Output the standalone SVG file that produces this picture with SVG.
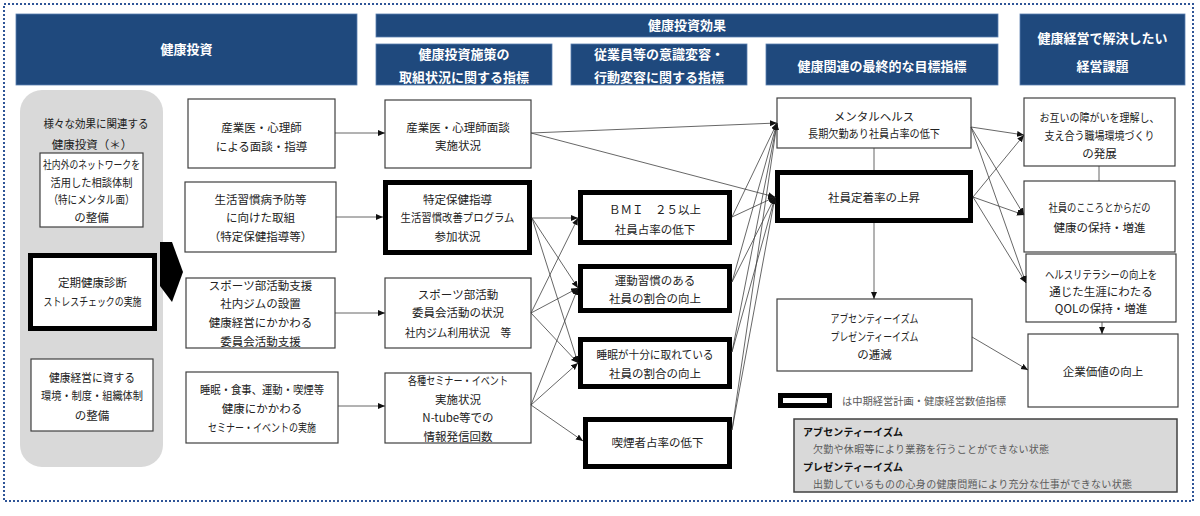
<svg xmlns="http://www.w3.org/2000/svg" width="1200" height="516" viewBox="0 0 1200 516">
<style>
text{font-family:"Noto Sans CJK JP","Noto Sans",sans-serif;}
.hdr{fill:#1F497D;stroke:#5b7fb0;stroke-width:0.8;}
.ht{fill:#fff;font-weight:bold;font-size:13px;text-anchor:middle;}
.box{fill:#fff;stroke:#404040;stroke-width:1.2;}
.tbox{fill:#fff;stroke:#000;stroke-width:5;}
.t{font-size:11.5px;fill:#222;text-anchor:middle;}
.c{stroke:#404040;stroke-width:0.8;fill:none;}
.a{marker-end:url(#ah);}
.nb{font-size:10px;font-weight:bold;fill:#111;}
.nt{font-size:10px;fill:#595959;}
</style>
<defs>
<marker id="ah" markerUnits="userSpaceOnUse" markerWidth="8" markerHeight="7" refX="7" refY="3" orient="auto">
<path d="M0,0 L7,3 L0,6 z" fill="#111"/>
</marker>
</defs>
<rect x="0" y="0" width="1200" height="516" fill="#fff"/>
<rect x="4" y="4" width="1189" height="497" fill="none" stroke="#2F5597" stroke-width="2" stroke-dasharray="2 2"/>

<g id="headers">
<rect class="hdr" x="16" y="14" width="341" height="71"/>
<text class="ht" x="186.5" y="54">健康投資</text>
<rect class="hdr" x="376" y="14" width="622" height="23"/>
<text class="ht" x="687" y="30">健康投資効果</text>
<rect class="hdr" x="376" y="44" width="176" height="41"/>
<text class="ht" x="464" y="58.5">健康投資施策の</text>
<text class="ht" x="464" y="81.5">取組状況に関する指標</text>
<rect class="hdr" x="571" y="44" width="176" height="41"/>
<text class="ht" x="659" y="58.5">従業員等の意識変容・</text>
<text class="ht" x="659" y="81.5">行動変容に関する指標</text>
<rect class="hdr" x="766" y="44" width="232" height="41"/>
<text class="ht" x="882" y="71">健康関連の最終的な目標指標</text>
<rect class="hdr" x="1020" y="14" width="165" height="71"/>
<text class="ht" x="1102.5" y="42.5">健康経営で解決したい</text>
<text class="ht" x="1102.5" y="70.5">経営課題</text>
</g>

<g id="panel">
<rect x="20" y="90" width="143" height="377" rx="22" fill="#d9d9d9"/>
<text class="t" x="96" y="128" textLength="105" lengthAdjust="spacingAndGlyphs">様々な効果に関連する</text>
<text class="t" x="92" y="149">健康投資（＊）</text>
</g>

<g id="inv-network">
<rect class="box" x="40" y="153" width="103" height="74"/>
<text class="t" x="91.5" y="169" textLength="97" lengthAdjust="spacingAndGlyphs">社内外のネットワークを</text>
<text class="t" x="91.5" y="187" textLength="82" lengthAdjust="spacingAndGlyphs">活用した相談体制</text>
<text class="t" x="91.5" y="204" textLength="86" lengthAdjust="spacingAndGlyphs">（特にメンタル面）</text>
<text class="t" x="91.5" y="222">の整備</text>
</g>
<g id="inv-checkup">
<rect class="tbox" x="30.5" y="255.5" width="124" height="73"/>
<text class="t" x="92.5" y="287">定期健康診断</text>
<text class="t" x="92.5" y="306" textLength="98" lengthAdjust="spacingAndGlyphs">ストレスチェックの実施</text>
</g>
<g id="inv-env">
<rect class="box" x="31" y="359" width="122" height="72"/>
<text class="t" x="92" y="382" textLength="86" lengthAdjust="spacingAndGlyphs">健康経営に資する</text>
<text class="t" x="92" y="400" textLength="102" lengthAdjust="spacingAndGlyphs">環境・制度・組織体制</text>
<text class="t" x="92" y="420">の整備</text>
</g>
<g id="big-arrow">
<polygon points="160,242 172,242 183,272 172,302 160,286" fill="#000"/>
</g>

<g id="c2-1">
<rect class="box" x="188" y="99" width="147" height="69"/>
<text class="t" x="261.5" y="132">産業医・心理師</text>
<text class="t" x="261.5" y="151">による面談・指導</text>
</g>
<g id="c2-2">
<rect class="box" x="185" y="182" width="151" height="70"/>
<text class="t" x="260.5" y="204">生活習慣病予防等</text>
<text class="t" x="260.5" y="222">に向けた取組</text>
<text class="t" x="260.5" y="241">（特定保健指導等）</text>
</g>
<g id="c2-3">
<rect class="box" x="186" y="278" width="149" height="70"/>
<text class="t" x="260.5" y="290">スポーツ部活動支援</text>
<text class="t" x="260.5" y="308">社内ジムの設置</text>
<text class="t" x="260.5" y="327">健康経営にかかわる</text>
<text class="t" x="260.5" y="346">委員会活動支援</text>
</g>
<g id="c2-4">
<rect class="box" x="186" y="372" width="152" height="71"/>
<text class="t" x="262" y="394" textLength="124" lengthAdjust="spacingAndGlyphs">睡眠・食事、運動・喫煙等</text>
<text class="t" x="262" y="413">健康にかかわる</text>
<text class="t" x="262" y="432" textLength="108" lengthAdjust="spacingAndGlyphs">セミナー・イベントの実施</text>
</g>

<g id="c3-1">
<rect class="box" x="385" y="100" width="146" height="68"/>
<text class="t" x="458" y="132">産業医・心理師面談</text>
<text class="t" x="458" y="150">実施状況</text>
</g>
<g id="c3-2">
<rect class="tbox" x="385.5" y="182.5" width="144" height="70"/>
<text class="t" x="457.5" y="204">特定保健指導</text>
<text class="t" x="457.5" y="222" textLength="114" lengthAdjust="spacingAndGlyphs">生活習慣改善プログラム</text>
<text class="t" x="457.5" y="241">参加状況</text>
</g>
<g id="c3-3">
<rect class="box" x="385" y="278" width="146" height="70"/>
<text class="t" x="458" y="299">スポーツ部活動</text>
<text class="t" x="458" y="317">委員会活動の状況</text>
<text class="t" x="458" y="337" textLength="106" lengthAdjust="spacingAndGlyphs">社内ジム利用状況　等</text>
</g>
<g id="c3-4">
<rect class="box" x="385" y="373" width="146" height="70"/>
<text class="t" x="458" y="385" textLength="100" lengthAdjust="spacingAndGlyphs">各種セミナー・イベント</text>
<text class="t" x="458" y="404">実施状況</text>
<text class="t" x="458" y="422">N-tube等での</text>
<text class="t" x="458" y="441">情報発信回数</text>
</g>

<g id="c4-1">
<rect class="tbox" x="580.5" y="192.5" width="149" height="50"/>
<text class="t" x="655" y="214">ＢＭＩ　２５以上</text>
<text class="t" x="655" y="234">社員占率の低下</text>
</g>
<g id="c4-2">
<rect class="tbox" x="580.5" y="266.5" width="149" height="44"/>
<text class="t" x="655" y="285">運動習慣のある</text>
<text class="t" x="655" y="303">社員の割合の向上</text>
</g>
<g id="c4-3">
<rect class="tbox" x="580.5" y="339.5" width="149" height="47"/>
<text class="t" x="655" y="359" textLength="117" lengthAdjust="spacingAndGlyphs">睡眠が十分に取れている</text>
<text class="t" x="655" y="378">社員の割合の向上</text>
</g>
<g id="c4-4">
<rect class="tbox" x="585.5" y="419.5" width="144" height="47"/>
<text class="t" x="657.5" y="447">喫煙者占率の低下</text>
</g>

<g id="c5-1">
<rect class="box" x="777" y="98" width="194" height="50"/>
<text class="t" x="874" y="121">メンタルヘルス</text>
<text class="t" x="874" y="138" textLength="132" lengthAdjust="spacingAndGlyphs">長期欠勤あり社員占率の低下</text>
</g>
<g id="c5-2">
<rect class="tbox" x="777.5" y="172.5" width="193" height="48"/>
<text class="t" x="874" y="202">社員定着率の上昇</text>
</g>
<g id="c5-3">
<rect class="box" x="777" y="299" width="195" height="72"/>
<text class="t" x="874.5" y="323" textLength="88" lengthAdjust="spacingAndGlyphs">アブセンティーイズム</text>
<text class="t" x="874.5" y="341" textLength="88" lengthAdjust="spacingAndGlyphs">プレゼンティーイズム</text>
<text class="t" x="874.5" y="359">の逓減</text>
</g>

<g id="c6-1">
<rect class="box" x="1024" y="98" width="151" height="68"/>
<text class="t" x="1099.5" y="122" textLength="120" lengthAdjust="spacingAndGlyphs">お互いの障がいを理解し、</text>
<text class="t" x="1099.5" y="140" textLength="110" lengthAdjust="spacingAndGlyphs">支え合う職場環境づくり</text>
<text class="t" x="1099.5" y="158">の発展</text>
</g>
<g id="c6-2">
<rect class="box" x="1024" y="181" width="151" height="71"/>
<text class="t" x="1099.5" y="212" textLength="102" lengthAdjust="spacingAndGlyphs">社員のこころとからだの</text>
<text class="t" x="1099.5" y="232">健康の保持・増進</text>
</g>
<g id="c6-3">
<rect class="box" x="1026" y="254" width="150" height="68"/>
<text class="t" x="1101" y="279" textLength="112" lengthAdjust="spacingAndGlyphs">ヘルスリテラシーの向上を</text>
<text class="t" x="1101" y="296">通じた生涯にわたる</text>
<text class="t" x="1101" y="313">QOLの保持・増進</text>
</g>
<g id="c6-4">
<rect class="box" x="1028" y="334" width="150" height="73"/>
<text class="t" x="1103" y="376">企業価値の向上</text>
</g>

<g id="legend">
<rect x="780.5" y="395.5" width="49" height="10" fill="#fff" stroke="#000" stroke-width="5"/>
<text x="842" y="405" font-size="10.5" fill="#595959" textLength="164" lengthAdjust="spacingAndGlyphs">は中期経営計画・健康経営数値指標</text>
</g>
<g id="note">
<rect x="794" y="419" width="383" height="73" fill="#d9d9d9" stroke="#404040" stroke-width="1.5"/>
<text class="nb" x="803" y="436" textLength="100">アブセンティーイズム</text>
<text class="nt" x="813" y="453" textLength="236">欠勤や休暇等により業務を行うことができない状態</text>
<text class="nb" x="803" y="471" textLength="100">プレゼンティーイズム</text>
<text class="nt" x="813" y="488" textLength="319">出勤しているものの心身の健康問題により充分な仕事ができない状態</text>
</g>

<g id="connectors">
<path class="c a" d="M335,133 L385,133"/>
<path class="c a" d="M336,217 L383,217"/>
<path class="c a" d="M335,313 L385,313"/>
<path class="c a" d="M338,406 L385,406"/>

<path class="c a" d="M532,218 L578,218"/>
<path class="c a" d="M532,218 L578,288"/>
<path class="c a" d="M532,218 L578,363"/>
<path class="c a" d="M531,313 L578,218"/>
<path class="c a" d="M531,313 L578,288"/>
<path class="c a" d="M531,313 L578,363"/>
<path class="c a" d="M531,405 L578,288"/>
<path class="c a" d="M531,405 L578,363"/>
<path class="c a" d="M531,405 L583,441"/>

<path class="c a" d="M531,133 L777,123"/>
<path class="c a" d="M531,133 L775,197"/>

<path class="c a" d="M732,217 L777,123"/>
<path class="c a" d="M732,217 L775,197"/>
<path class="c a" d="M732,282 L777,123"/>
<path class="c a" d="M732,282 L775,197"/>
<path class="c a" d="M732,352 L777,123"/>
<path class="c a" d="M732,352 L775,197"/>
<path class="c a" d="M732,430 L777,123"/>
<path class="c a" d="M732,430 L775,197"/>

<path class="c" d="M874,148 L874,170"/>
<path class="c a" d="M874,223 L874,299"/>

<path class="c a" d="M971,127 L1024,135"/>
<path class="c a" d="M971,127 L1024,215"/>
<path class="c a" d="M971,127 L1026,283"/>
<path class="c a" d="M973,197 L1024,135"/>
<path class="c a" d="M973,197 L1024,215"/>
<path class="c a" d="M973,197 L1026,283"/>
<path class="c a" d="M972,337 L1028,370"/>

<path class="c" d="M1099,166 L1099,181"/>
<path class="c a" d="M1102,322 L1102,334"/>
</g>
</svg>
